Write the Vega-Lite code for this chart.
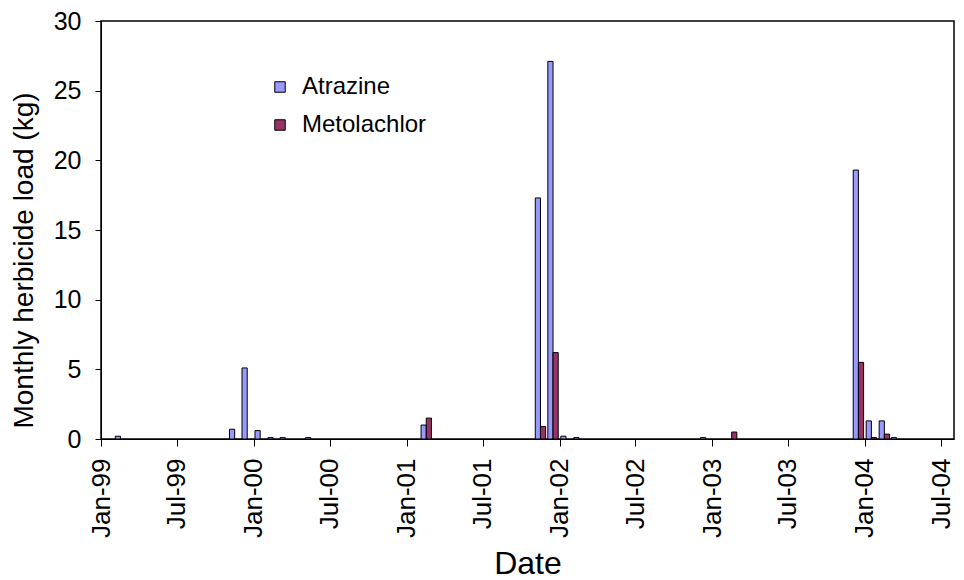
{
  "$schema": "https://vega.github.io/schema/vega-lite/v6.json",
  "width": 853,
  "height": 418,
  "autosize": {"type": "none"},
  "padding": {"left": 101, "top": 21, "right": 10, "bottom": 141},
  "background": "white",
  "config": {
    "font": "Liberation Sans",
    "view": {"stroke": "black", "strokeWidth": 1.5},
    "axis": {"grid": false, "domainColor": "black", "tickColor": "black", "labelColor": "black", "titleColor": "black", "labelFont": "Liberation Sans", "titleFont": "Liberation Sans", "titleFontWeight": "normal"}
  },
  "data": {
    "values": [
      {"date": "1999-02-01", "series": "Atrazine", "load": 0.2},
      {"date": "1999-11-01", "series": "Atrazine", "load": 0.7},
      {"date": "1999-12-01", "series": "Atrazine", "load": 5.1},
      {"date": "2000-01-01", "series": "Atrazine", "load": 0.6},
      {"date": "2000-02-01", "series": "Atrazine", "load": 0.1},
      {"date": "2000-03-01", "series": "Atrazine", "load": 0.1},
      {"date": "2000-05-01", "series": "Atrazine", "load": 0.1},
      {"date": "2001-02-01", "series": "Atrazine", "load": 1.0},
      {"date": "2001-02-01", "series": "Metolachlor", "load": 1.5},
      {"date": "2001-11-01", "series": "Atrazine", "load": 17.3},
      {"date": "2001-11-01", "series": "Metolachlor", "load": 0.9},
      {"date": "2001-12-01", "series": "Atrazine", "load": 27.1},
      {"date": "2001-12-01", "series": "Metolachlor", "load": 6.2},
      {"date": "2002-01-01", "series": "Atrazine", "load": 0.2},
      {"date": "2002-02-01", "series": "Atrazine", "load": 0.1},
      {"date": "2002-12-01", "series": "Atrazine", "load": 0.1},
      {"date": "2003-02-01", "series": "Metolachlor", "load": 0.5},
      {"date": "2003-12-01", "series": "Atrazine", "load": 19.3},
      {"date": "2003-12-01", "series": "Metolachlor", "load": 5.5},
      {"date": "2004-01-01", "series": "Atrazine", "load": 1.3},
      {"date": "2004-01-01", "series": "Metolachlor", "load": 0.1},
      {"date": "2004-02-01", "series": "Atrazine", "load": 1.3},
      {"date": "2004-02-01", "series": "Metolachlor", "load": 0.35},
      {"date": "2004-03-01", "series": "Atrazine", "load": 0.1}
    ]
  },
  "mark": {"type": "bar", "stroke": "black", "strokeWidth": 1},
  "encoding": {
    "x": {
      "field": "date",
      "timeUnit": "utcyearmonth",
      "type": "temporal",
      "title": "Date",
      "scale": {"domain": [{"year": 1999, "month": 1, "date": 1, "utc": true}, {"year": 2004, "month": 8, "date": 1, "utc": true}]},
      "axis": {
        "values": [
          {"year": 1999, "month": 1, "date": 1, "utc": true},
          {"year": 1999, "month": 7, "date": 1, "utc": true},
          {"year": 2000, "month": 1, "date": 1, "utc": true},
          {"year": 2000, "month": 7, "date": 1, "utc": true},
          {"year": 2001, "month": 1, "date": 1, "utc": true},
          {"year": 2001, "month": 7, "date": 1, "utc": true},
          {"year": 2002, "month": 1, "date": 1, "utc": true},
          {"year": 2002, "month": 7, "date": 1, "utc": true},
          {"year": 2003, "month": 1, "date": 1, "utc": true},
          {"year": 2003, "month": 7, "date": 1, "utc": true},
          {"year": 2004, "month": 1, "date": 1, "utc": true},
          {"year": 2004, "month": 7, "date": 1, "utc": true}
        ],
        "format": "%b-%y",
        "labelAngle": -90,
        "labelFontSize": 26,
        "labelPadding": 12,
        "tickSize": 7,
        "labelFlush": false,
        "labelOverlap": false,
        "titleFontSize": 32,
        "titlePadding": 11
      }
    },
    "xOffset": {"field": "series", "type": "nominal", "scale": {"paddingInner": 0}},
    "y": {
      "field": "load",
      "type": "quantitative",
      "title": "Monthly herbicide load (kg)",
      "scale": {"domain": [0, 30]},
      "axis": {"values": [0, 5, 10, 15, 20, 25, 30], "labelFontSize": 25, "tickSize": 6, "labelPadding": 14, "titleFontSize": 28, "titlePadding": 15, "titleY": 239}
    },
    "color": {
      "field": "series",
      "type": "nominal",
      "scale": {"domain": ["Atrazine", "Metolachlor"], "range": ["#9999FF", "#993366"]},
      "legend": {
        "title": null,
        "orient": "none",
        "legendX": 167,
        "legendY": 54,
        "symbolType": "square",
        "symbolSize": 110,
        "symbolStrokeColor": "black",
        "symbolStrokeWidth": 1,
        "symbolOpacity": 1,
        "labelFontSize": 24,
        "labelColor": "black",
        "labelOffset": 10,
        "rowPadding": 14
      }
    }
  }
}
